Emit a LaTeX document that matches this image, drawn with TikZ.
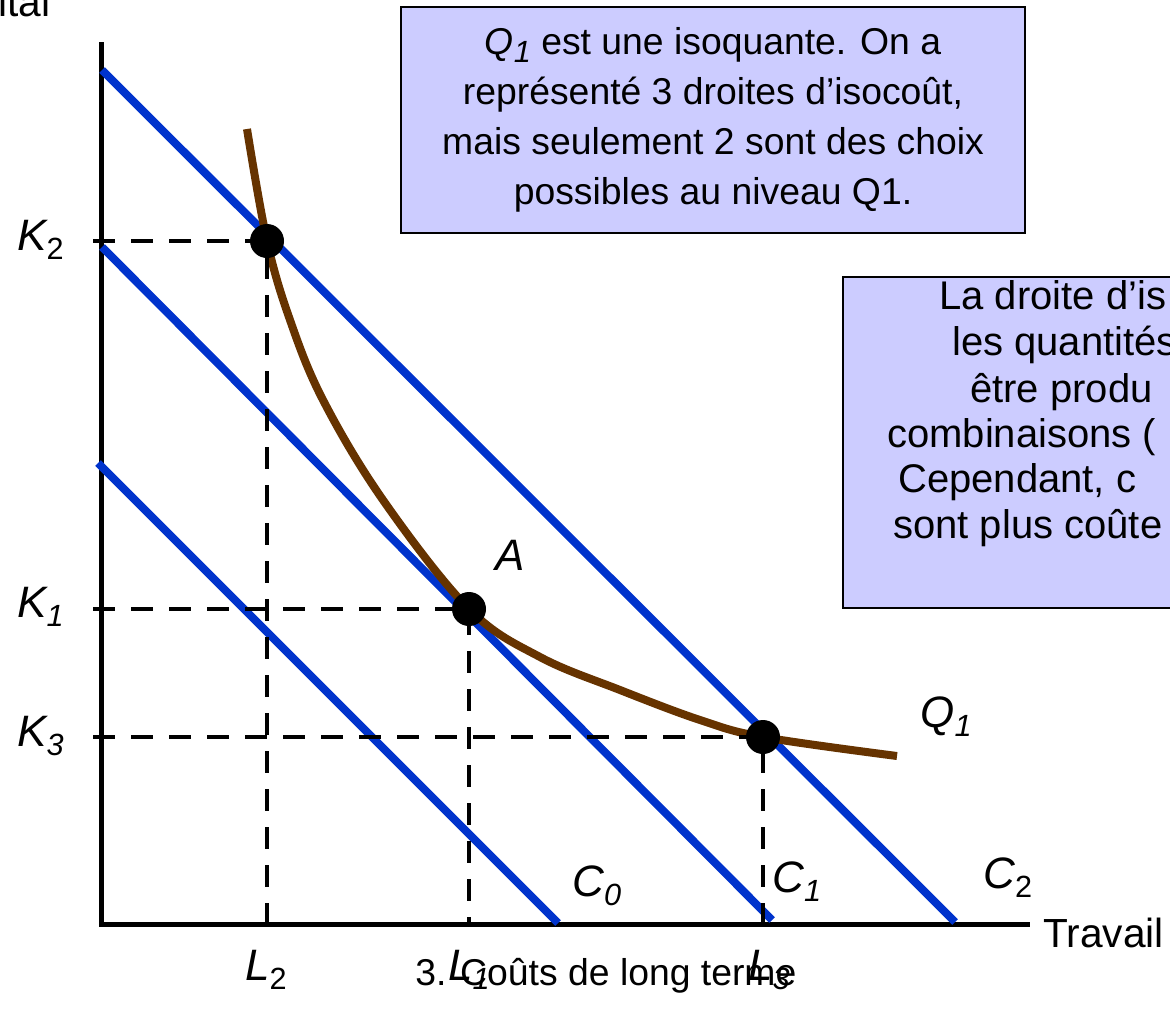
\documentclass[tikz,border=0pt]{standalone}
\usepackage{fontspec}
\setmainfont{Liberation Sans}
\definecolor{isoblue}{RGB}{0,51,204}
\definecolor{isobrown}{RGB}{102,51,0}
\definecolor{boxfill}{RGB}{204,204,255}
\newcommand\sbi[1]{\raisebox{-0.22em}{\fontsize{23}{23}\selectfont #1}}
\newcommand\sbu[1]{\raisebox{-0.22em}{\fontsize{23}{23}\selectfont\upshape #1}}
\begin{document}
\begin{tikzpicture}[x=0.75pt,y=-0.75pt,
 axis/.style={line width=3.75pt},
 isocost/.style={isoblue,line width=6pt},
 guide/.style={line width=3pt,dash pattern=on 16.5pt off 12pt},
 dot/.style={circle,fill=black,inner sep=0pt,minimum size=25.5pt},
 lbl/.style={font=\fontsize{33}{36}\selectfont\itshape,inner sep=0pt,anchor=base west},
 plain/.style={font=\fontsize{30.5}{36}\selectfont,inner sep=0pt,anchor=base west},
 boxtxt/.style={font=\fontsize{30}{34.5}\selectfont,inner sep=0pt,anchor=base west},
 infobox/.style={draw=black,line width=1.5pt,fill=boxfill},
]
\useasboundingbox (0,0) rectangle (1170,1018);
\clip (0,0) rectangle (1170,1018);

% axes
\coordinate (Ytop) at (101,42);
\coordinate (O) at (101,924);
\coordinate (Xend) at (1030,924);
\draw[axis] (Ytop) -- (O) -- (Xend);

% isocost lines
\coordinate (C2a) at (102,70);   \coordinate (C2b) at (955,922);
\coordinate (C1a) at (102,247);  \coordinate (C1b) at (772,920);
\coordinate (C0a) at (98,463);   \coordinate (C0b) at (558,923);
\draw[isocost] (C2a) -- (C2b);
\draw[isocost] (C1a) -- (C1b);
\draw[isocost] (C0a) -- (C0b);

% isoquant
\draw[isobrown,line width=6pt] plot[smooth,tension=0.6] coordinates {(247,129) (267,241) (290,320) (323,400) (383,500) (469,609) (540,657) (620,690) (700,720) (763,737) (897,756)};

% points
\coordinate (P2) at (267,241);
\coordinate (PA) at (469,609);
\coordinate (P3) at (763,737);
\coordinate (K2t) at (93,241);  \coordinate (L2t) at (267,926);
\coordinate (K1t) at (93,609);  \coordinate (L1t) at (469,926);
\coordinate (K3t) at (93,737);  \coordinate (L3t) at (763,926);
\draw[guide] (K2t) -- (P2) -- (L2t);
\draw[guide] (K1t) -- (PA) -- (L1t);
\draw[guide] (K3t) -- (P3) -- (L3t);
\node[dot] (D2) at (P2) {};
\node[dot] (DA) at (PA) {};
\node[dot] (D3) at (P3) {};

% labels
\node[lbl] (lK2) at (17,250) {K\sbu{2}};
\node[lbl] (lK1) at (17,617) {K\sbi{1}};
\node[lbl] (lK3) at (17,746) {K\sbi{3}};
\node[lbl] (lL2) at (245,980) {L\sbu{2}};
\node[lbl] (lL1) at (448,980) {L\sbi{1}};
\node[lbl] (lL3) at (748,980) {L\sbi{3}};
\node[lbl] (lC0) at (572,896) {C\sbi{0}};
\node[lbl] (lC1) at (772,892) {C\sbi{1}};
\node[lbl] (lC2) at (983,888) {C\sbu{2}};
\node[lbl] (lQ1) at (920,727) {Q\sbi{1}};
\node[lbl] (lA) at (495,570) {A};
\node[plain] (travail) at (1043,947) {Travail};
\node[plain] (capital) at (-2,16) {ital};
\node[font=\fontsize{28}{30}\selectfont,inner sep=0pt,anchor=base west] (caption) at (415,985) {3. Coûts de long terme};

% top box
\node[infobox,minimum width=468pt,minimum height=169.5pt,align=center,inner sep=0pt,
      font=\fontsize{28}{37.5}\selectfont] (box1) at (713,120)
  {\textit{Q\sbi{1}} est une isoquante. On a\\représenté 3 droites d’isocoût,\\mais seulement 2 sont des choix\\possibles au niveau Q1.};

% right box (cut by the picture edge)
\draw[infobox] (843,277) rectangle (1220,608);
\node[boxtxt] (r1) at (939,309) {La droite d’is};
\node[boxtxt] (r2) at (952,355) {les quantités};
\node[boxtxt] (r3) at (970,402) {être produ};
\node[boxtxt] (r4) at (887,447) {combinaisons (};
\node[boxtxt] (r5) at (898,492) {Cependant, c};
\node[boxtxt] (r6) at (893,538) {sont plus coûte};
\end{tikzpicture}
\end{document}
